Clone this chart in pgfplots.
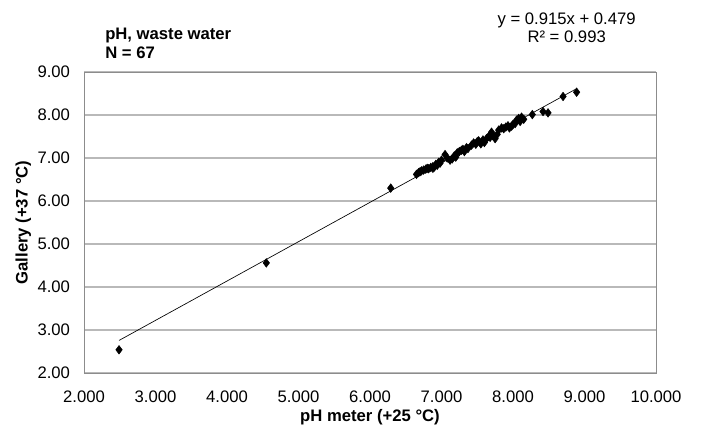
\documentclass[border=0pt]{standalone}
\usepackage{pgfplots}
\pgfplotsset{compat=1.18}
\usepackage{fontspec}
\setmainfont{Liberation Sans}
\begin{document}
\begin{tikzpicture}
\path[use as bounding box] (-63pt,-44.25pt) rectangle (462.75pt,279.75pt);
\begin{axis}[
  at={(0pt,0pt)}, anchor=south west,
  scale only axis, width=429pt, height=225.75pt,
  xmin=2, xmax=10, ymin=2, ymax=9,
  xtick={2,3,...,10}, ytick={2,3,...,9},
  /pgf/number format/assume math mode=true,
  xticklabel={\pgfmathprintnumber[fixed,fixed zerofill,precision=3]{\tick}},
  yticklabel={\pgfmathprintnumber[fixed,fixed zerofill,precision=2]{\tick}},
  ticklabel style={font=\fontsize{12.5}{14}\selectfont},
  xticklabel style={yshift=-10pt},
  yticklabel style={xshift=-7pt},
  major tick length=0pt,
  axis line style={draw=gray!90},
  ymajorgrids, grid style={draw=gray!55, line width=0.8pt},
  xlabel={\textbf{pH meter (+25 °C)}},
  ylabel={\textbf{Gallery (+37 °C)}},
  label style={font=\fontsize{12.5}{14}\selectfont},
  xlabel style={yshift=2pt},
  ylabel style={yshift=-2pt},
  clip=false,
]
\addplot[only marks, mark=diamond*, mark size=3.2pt, black] coordinates {
(2.49,2.54) (4.55,4.56) (6.29,6.30)
(6.65,6.62) (6.68,6.66) (6.70,6.68) (6.72,6.70) (6.75,6.72) (6.78,6.74)
(6.80,6.76) (6.82,6.75) (6.85,6.78) (6.88,6.80) (6.88,6.76) (6.90,6.79)
(6.92,6.85) (6.94,6.83) (6.96,6.90) (6.98,6.88) (7.00,6.95)
(7.05,7.08) (7.08,7.00) (7.12,6.95) (7.15,6.98) (7.18,7.05) (7.20,7.02)
(7.22,7.12) (7.25,7.15) (7.28,7.18) (7.30,7.20) (7.32,7.15) (7.35,7.24) (7.37,7.22)
(7.42,7.30) (7.45,7.35) (7.48,7.32) (7.50,7.38) (7.52,7.40) (7.55,7.33) (7.58,7.42) (7.60,7.36)
(7.63,7.45) (7.66,7.50) (7.68,7.48) (7.70,7.60) (7.72,7.52) (7.75,7.45) (7.78,7.55)
(7.80,7.65) (7.84,7.70) (7.87,7.68) (7.90,7.72) (7.93,7.75) (7.95,7.70) (7.98,7.74) (8.00,7.78) (8.03,7.80)
(8.05,7.88) (8.08,7.92) (8.10,7.85) (8.12,7.95) (8.15,7.90)
(8.27,8.01) (8.42,8.08) (8.49,8.05) (8.70,8.43) (8.89,8.53)
};
\addplot[black, line width=0.5pt, no marks] coordinates {(2.49,2.757) (8.89,8.613)};
\end{axis}
\node[anchor=north west, inner sep=0pt, align=left, font=\fontsize{12.5}{14.3}\selectfont\bfseries] at (15.75pt,259pt) {pH, waste water\\N = 67};
\node[anchor=north, inner sep=0pt, align=center, font=\fontsize{12.5}{13.5}\selectfont] at (362pt,270pt) {y = 0.915x + 0.479\\R² = 0.993};
\end{tikzpicture}
\end{document}
